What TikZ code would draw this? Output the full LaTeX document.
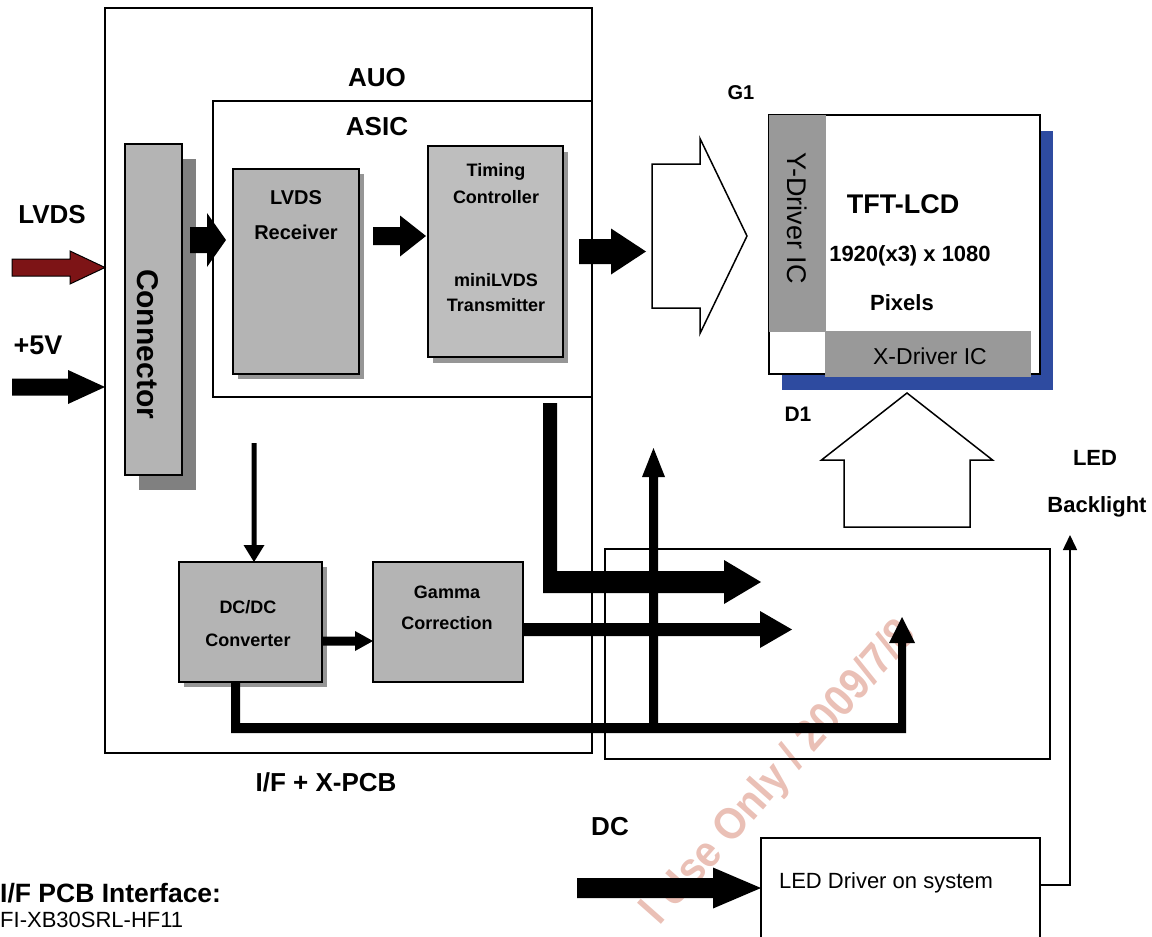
\documentclass[tikz,border=0pt]{standalone}
\usepackage{fontspec}
\setmainfont{Liberation Sans}
\usetikzlibrary{calc,shadows,arrows.meta}
\definecolor{boxgray}{RGB}{180,180,180}
\definecolor{boxgrayb}{RGB}{190,190,190}
\definecolor{drvgray}{RGB}{153,153,153}
\definecolor{shadowgray}{RGB}{128,128,128}
\definecolor{shadowlight}{RGB}{150,150,150}
\definecolor{panelblue}{RGB}{46,75,160}
\definecolor{lvdsred}{RGB}{125,20,22}
\definecolor{wmpink}{RGB}{234,192,182}
% horizontal block arrow: start, tip, shaft half, head half, head length, style
\newcommand\hblk[6]{\path[#6] let \p1=(#1), \p2=(#2) in ({\x1},{\y1+#3}) -- ({\x2-#5},{\y1+#3}) -- ({\x2-#5},{\y1+#4}) -- ({\x2},{\y1}) -- ({\x2-#5},{\y1-#4}) -- ({\x2-#5},{\y1-#3}) -- ({\x1},{\y1-#3}) -- cycle;}
% vertical block arrow: start, tip, shaft half, head half, signed head length, style
\newcommand\vblk[6]{\path[#6] let \p1=(#1), \p2=(#2) in ({\x1-#3},{\y1}) -- ({\x1-#3},{\y2-(#5)}) -- ({\x1-#4},{\y2-(#5)}) -- ({\x1},{\y2}) -- ({\x1+#4},{\y2-(#5)}) -- ({\x1+#3},{\y2-(#5)}) -- ({\x1+#3},{\y1}) -- cycle;}
\tikzset{
  box/.style={draw, line width=1.3pt, inner sep=0pt, outer sep=0pt, anchor=north west},
  gbox/.style={box, line width=1.8pt, fill=boxgray},
  bl/.style={inner sep=0pt, font=\bfseries\fontsize{#1}{#1}\selectfont},
  rl/.style={inner sep=0pt, font=\fontsize{#1}{#1}\selectfont},
  blk/.style={fill=black},
}
\begin{document}
\begin{tikzpicture}[x=1pt,y=-1pt]
\useasboundingbox (0,0) rectangle (1152,937);
\clip (0,0) rectangle (1152,937);

% watermark
\node[rotate=48.5, xscale=0.92, anchor=base east, text=wmpink, inner sep=0pt, font=\bfseries\fontsize{44}{44}\selectfont] (wm) at (918,635) {l Use Only / 2009/7/8};

% frames
\node[box, minimum width=487pt, minimum height=745pt] (auo) at (105,8) {};
\node[box, minimum width=379pt, minimum height=296pt] (asic) at (213,101) {};
\node[box, minimum width=445pt, minimum height=210pt] (xbox) at (605,549) {};
\node[box, minimum width=279pt, minimum height=120pt] (ledbox) at (761,838) {};

% gray blocks
\node[gbox, minimum width=57pt, minimum height=331pt, drop shadow={shadow xshift=14pt, shadow yshift=-15pt, fill=shadowgray, opacity=1}] (conn) at (125,144) {};
\node[gbox, minimum width=126pt, minimum height=205pt, drop shadow={shadow xshift=5pt, shadow yshift=-5pt, fill=shadowlight, opacity=1}] (recv) at (233,169) {};
\node[gbox, fill=boxgrayb, minimum width=135pt, minimum height=211pt, drop shadow={shadow xshift=5pt, shadow yshift=-6pt, fill=shadowlight, opacity=1}] (tcon) at (428,146) {};
\node[gbox, minimum width=143pt, minimum height=120pt, drop shadow={shadow xshift=5pt, shadow yshift=-5pt, fill=shadowlight, opacity=1}] (dcdc) at (179,562) {};
\node[gbox, minimum width=150pt, minimum height=120pt] (gamma) at (373,562) {};

% panel
\node[box, line width=1.6pt, fill=white, minimum width=271pt, minimum height=259pt, drop shadow={shadow xshift=13pt, shadow yshift=-16pt, fill=panelblue, opacity=1}] (panel) at (769,115) {};
\node[anchor=north west, fill=drvgray, inner sep=0pt, minimum width=57pt, minimum height=217pt] (ydrv) at (769,115) {};
\node[anchor=north west, fill=drvgray, inner sep=0pt, minimum width=206pt, minimum height=46pt] (xdrv) at (825,331) {};

% hollow arrows
\coordinate (g1s) at (652,236);
\coordinate (g1e) at (747,236);
\hblk{g1s}{g1e}{72pt}{97.5pt}{47pt}{draw, line width=1.5pt, fill=white}
\coordinate (d1s) at (907,527);
\coordinate (d1e) at (907,393);
\vblk{d1s}{d1e}{63pt}{85.5pt}{67pt}{draw, line width=1.5pt, fill=white}

% input arrows
\coordinate (a12s) at (12,267.5);
\coordinate (a12e) at (auo.west |- 0,267.5);
\hblk{a12s}{a12e}{8.5pt}{16.5pt}{35pt}{fill=lvdsred, draw=black, line width=1pt}
\coordinate (a13s) at (12,387);
\coordinate (a13e) at (auo.west |- 0,387);
\hblk{a13s}{a13e}{8.5pt}{17pt}{37pt}{blk}

% signal arrows
\coordinate (a1s) at (190,240);
\coordinate (a1e) at (226,240);
\hblk{a1s}{a1e}{13pt}{27pt}{19pt}{blk}
\coordinate (a2s) at (373,236);
\coordinate (a2e) at (426,236);
\hblk{a2s}{a2e}{9pt}{20.5pt}{26pt}{blk}
\coordinate (a3s) at (579,251.5);
\coordinate (a3e) at (646,251.5);
\hblk{a3s}{a3e}{12.5pt}{23pt}{35pt}{blk}

% L-shaped arrow from ASIC
\coordinate (a4s) at (550,403);
\coordinate (a4e) at (761,582);
\fill let \p1=(a4s), \p2=(a4e) in ({\x1-7pt},{\y1}) -- ({\x1+7pt},{\y1}) -- ({\x1+7pt},{\y2+11pt}) -- ({\x2-37pt},{\y2+11pt}) -- ({\x2-37pt},{\y2+22pt}) -- ({\x2},{\y2}) -- ({\x2-37pt},{\y2-22pt}) -- ({\x2-37pt},{\y2-11pt}) -- ({\x1-7pt},{\y2-11pt}) -- cycle;

% gamma out
\coordinate (a5s) at (gamma.east |- 0,629.5);
\coordinate (a5e) at (792,629.5);
\hblk{a5s}{a5e}{6.5pt}{18.5pt}{32pt}{blk}
% dcdc -> gamma
\coordinate (a6s) at (dcdc.east |- 0,641);
\coordinate (a6e) at (gamma.west |- 0,641);
\hblk{a6s}{a6e}{4.5pt}{10pt}{18pt}{blk}
% down into dcdc
\coordinate (a7s) at (254,443);
\coordinate (a7e) at (254,562);
\vblk{a7s}{a7e}{2.5pt}{10.5pt}{-17pt}{blk}

% bottom power path
\coordinate (a8s) at (235.5,682);
\coordinate (a8m) at (0,728);
\coordinate (a8e) at (902,617);
\fill let \p1=(a8s), \p2=(a8e), \p3=(a8m) in ({\x1-4.5pt},{\y1}) -- ({\x1+4.5pt},{\y1}) -- ({\x1+4.5pt},{\y3+5pt}) -- ({\x2-4pt},{\y3+5pt}) -- ({\x2-4pt},{\y2-26pt}) -- ({\x2-13pt},{\y2-26pt}) -- ({\x2},{\y2}) -- ({\x2+13pt},{\y2-26pt}) -- ({\x2+4pt},{\y2-26pt}) -- ({\x2+4pt},{\y3-5pt}) -- ({\x1-4.5pt},{\y3-5pt}) -- cycle;
% vertical up arrow
\coordinate (a9s) at (653.5,723);
\coordinate (a9e) at (653.5,448);
\vblk{a9s}{a9e}{4.5pt}{11.5pt}{29pt}{blk}

% DC input
\coordinate (a11s) at (577,888);
\coordinate (a11e) at (ledbox.west |- 0,888);
\hblk{a11s}{a11e}{10pt}{20.5pt}{48pt}{blk}
% backlight line
\coordinate (bls) at (ledbox.east |- 0,885);
\coordinate (ble) at (1070,535);
\draw[line width=1.5pt, -{Triangle[length=15pt,width=14pt]}] (bls) -| (ble);

% texts
\node[bl=26] (tauo) at (377,78) {AUO};
\node[bl=26] (tasic) at (377,127) {ASIC};
\node[bl=26] (tlvds) at (52,215) {LVDS};
\node[bl=27] (t5v) at (38,345) {+5V};
\node[bl=30, rotate=-90] (tconn) at (148,344) {Connector};
\node[bl=20] (tr1) at (296,198) {LVDS};
\node[bl=20] (tr2) at (296,232) {Receiver};
\node[bl=18] (tt1) at (496,172) {Timing};
\node[bl=18] (tt2) at (496,197) {Controller};
\node[bl=18] (tt3) at (496,280) {miniLVDS};
\node[bl=18] (tt4) at (496,305) {Transmitter};
\node[bl=20] (tg1) at (741,93) {G1};
\node[bl=27] (ttft) at (903,204) {TFT-LCD};
\node[bl=22] (tres) at (910,256) {1920(x3) x 1080};
\node[bl=22] (tpix) at (902,303) {Pixels};
\node[rl=27, rotate=-90] (tyd) at (797,218) {Y-Driver IC};
\node[rl=23] (txd) at (930,356) {X-Driver IC};
\node[bl=21] (td1) at (798,414) {D1};
\node[bl=22] (tled) at (1095,458) {LED};
\node[bl=22] (tbl) at (1097,507) {Backlight};
\node[bl=18] (td1a) at (248,607) {DC/DC};
\node[bl=18] (td2a) at (248,640) {Converter};
\node[bl=18] (tg1a) at (447,592) {Gamma};
\node[bl=18] (tg2a) at (447,623) {Correction};
\node[bl=26] (tifx) at (326,782) {I/F + X-PCB};
\node[bl=26] (tdc) at (610,827) {DC};
\node[bl=26.5, anchor=west] (tif) at (0,893) {I/F PCB Interface:};
\node[rl=22, anchor=west] (tfi) at (0,920) {FI-XB30SRL-HF11};
\node[rl=22] (tldr) at (886,883) {LED Driver on system};
\end{tikzpicture}
\end{document}
